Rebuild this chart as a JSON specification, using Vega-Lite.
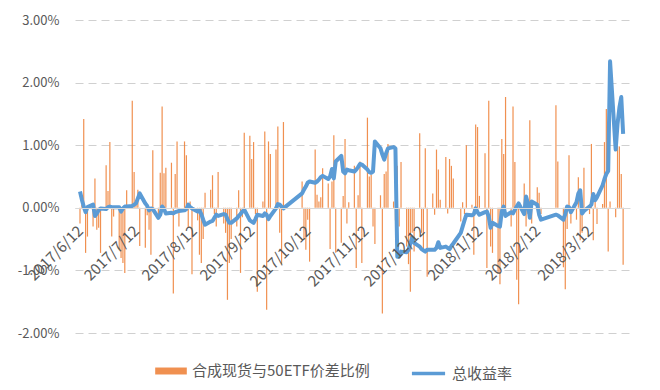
{
"$schema": "https://vega.github.io/schema/vega-lite/v6.json",
"width": 555, "height": 313,
"autosize": "none",
"padding": {"left": 75, "top": 20, "right": 30, "bottom": 57},
"background": "white",
"config": {"view": {"stroke": null}, "font": "Noto Sans CJK SC"},
"data": {"values": [
{"d":"2017-06-12","s":-0.25,"r":0.26},{"d":"2017-06-13","s":0.05,"r":0.13},{"d":"2017-06-14","s":1.42,"r":0.02},{"d":"2017-06-15","s":-0.72,"r":-0.07},{"d":"2017-06-16","s":-0.46,"r":0.01},
{"d":"2017-06-19","s":-0.3,"r":0.05},{"d":"2017-06-20","s":0.47,"r":-0.13},{"d":"2017-06-21","s":-0.35,"r":-0.09},{"d":"2017-06-22","s":-0.32,"r":-0.04},{"d":"2017-06-23","s":-0.72,"r":-0.01},
{"d":"2017-06-26","s":0.68,"r":-0.02},{"d":"2017-06-27","s":0.27,"r":0.01},{"d":"2017-06-28","s":1.05,"r":0.02},{"d":"2017-06-29","s":-0.46,"r":0.01},{"d":"2017-06-30","s":-0.14,"r":0.01},
{"d":"2017-07-03","s":-0.66,"r":0.01},{"d":"2017-07-04","s":-0.8,"r":-0.06},{"d":"2017-07-05","s":-0.88,"r":-0.01},{"d":"2017-07-06","s":-1.04,"r":0.02},{"d":"2017-07-07","s":0.28,"r":0.02},
{"d":"2017-07-10","s":1.71,"r":0.03},{"d":"2017-07-11","s":0.57,"r":0.05},{"d":"2017-07-12","s":0.1,"r":0.07},{"d":"2017-07-13","s":0.29,"r":0.15},{"d":"2017-07-14","s":-0.61,"r":0.23},
{"d":"2017-07-17","s":-0.64,"r":0.07},{"d":"2017-07-18","s":-0.12,"r":0.03},{"d":"2017-07-19","s":-0.35,"r":-0.04},{"d":"2017-07-20","s":-0.75,"r":-0.01},{"d":"2017-07-21","s":0.92,"r":-0.02},
{"d":"2017-07-24","s":-0.15,"r":-0.16},{"d":"2017-07-25","s":0.56,"r":-0.11},{"d":"2017-07-26","s":1.62,"r":0.02},{"d":"2017-07-27","s":0.55,"r":-0.02},{"d":"2017-07-28","s":0.64,"r":-0.09},
{"d":"2017-07-31","s":0.72,"r":-0.08},{"d":"2017-08-01","s":-1.37,"r":-0.09},{"d":"2017-08-02","s":0.54,"r":-0.07},{"d":"2017-08-03","s":1.06,"r":-0.06},{"d":"2017-08-04","s":-0.3,"r":-0.05},
{"d":"2017-08-07","s":1.06,"r":-0.04},{"d":"2017-08-08","s":0.84,"r":-0.02},{"d":"2017-08-09","s":-0.32,"r":0.05},{"d":"2017-08-10","s":0.1,"r":0.01},{"d":"2017-08-11","s":-1.06,"r":-0.01},
{"d":"2017-08-14","s":-0.2,"r":-0.06},{"d":"2017-08-15","s":-0.75,"r":-0.04},{"d":"2017-08-16","s":-0.88,"r":-0.1},{"d":"2017-08-17","s":-0.5,"r":-0.19},{"d":"2017-08-18","s":0.24,"r":-0.27},
{"d":"2017-08-21","s":0.29,"r":-0.22},{"d":"2017-08-22","s":0.52,"r":-0.21},{"d":"2017-08-23","s":-0.1,"r":-0.16},{"d":"2017-08-24","s":-0.3,"r":-0.11},{"d":"2017-08-25","s":0.57,"r":-0.13},
{"d":"2017-08-28","s":-0.25,"r":-0.1},{"d":"2017-08-29","s":-0.4,"r":-0.11},{"d":"2017-08-30","s":-1.47,"r":-0.18},{"d":"2017-08-31","s":-0.88,"r":-0.24},{"d":"2017-09-01","s":-0.5,"r":-0.24},
{"d":"2017-09-04","s":-0.3,"r":-0.17},{"d":"2017-09-05","s":0.28,"r":-0.13},{"d":"2017-09-06","s":-1.04,"r":-0.1},{"d":"2017-09-07","s":-0.15,"r":-0.06},{"d":"2017-09-08","s":1.2,"r":-0.03},
{"d":"2017-09-11","s":1.15,"r":-0.2},{"d":"2017-09-12","s":0.78,"r":-0.22},{"d":"2017-09-13","s":1.05,"r":-0.24},{"d":"2017-09-14","s":-0.1,"r":-0.18},{"d":"2017-09-15","s":-1.34,"r":-0.11},
{"d":"2017-09-18","s":0.1,"r":-0.13},{"d":"2017-09-19","s":1.22,"r":-0.09},{"d":"2017-09-20","s":-1.63,"r":-0.11},{"d":"2017-09-21","s":1.06,"r":-0.18},{"d":"2017-09-22","s":0.86,"r":-0.13},
{"d":"2017-09-25","s":0.93,"r":-0.01},{"d":"2017-09-26","s":1.3,"r":0.06},{"d":"2017-09-27","s":-0.4,"r":0.05},{"d":"2017-09-28","s":-0.9,"r":0.02},{"d":"2017-09-29","s":1.37,"r":-0.01},
{"d":"2017-10-09","s":0.42,"r":0.23},{"d":"2017-10-10","s":-0.51,"r":0.29},{"d":"2017-10-11","s":-0.67,"r":0.34},{"d":"2017-10-12","s":-0.19,"r":0.4},{"d":"2017-10-13","s":-0.86,"r":0.42},
{"d":"2017-10-16","s":0.93,"r":0.4},{"d":"2017-10-17","s":0.21,"r":0.42},{"d":"2017-10-18","s":0.1,"r":0.45},{"d":"2017-10-19","s":0.17,"r":0.49},{"d":"2017-10-20","s":0.63,"r":0.51},
{"d":"2017-10-23","s":0.39,"r":0.46},{"d":"2017-10-24","s":-0.66,"r":0.5},{"d":"2017-10-25","s":0.42,"r":0.62},{"d":"2017-10-26","s":1.16,"r":0.47},{"d":"2017-10-27","s":-0.72,"r":0.74},
{"d":"2017-10-30","s":-0.56,"r":0.83},{"d":"2017-10-31","s":0.19,"r":0.58},{"d":"2017-11-01","s":1.1,"r":0.55},{"d":"2017-11-02","s":-0.25,"r":0.61},{"d":"2017-11-03","s":0.09,"r":0.6},
{"d":"2017-11-06","s":0.67,"r":0.58},{"d":"2017-11-07","s":-0.96,"r":0.61},{"d":"2017-11-08","s":0.2,"r":0.65},{"d":"2017-11-09","s":0.74,"r":0.7},{"d":"2017-11-10","s":-0.88,"r":0.69},
{"d":"2017-11-13","s":1.44,"r":0.61},{"d":"2017-11-14","s":0.5,"r":0.57},{"d":"2017-11-15","s":0.53,"r":0.56},{"d":"2017-11-16","s":-0.3,"r":0.58},{"d":"2017-11-17","s":-0.58,"r":1.06},
{"d":"2017-11-20","s":0.2,"r":0.95},{"d":"2017-11-21","s":-1.69,"r":0.85},{"d":"2017-11-22","s":0.54,"r":0.77},{"d":"2017-11-23","s":0.58,"r":0.87},{"d":"2017-11-24","s":1.02,"r":0.95},
{"d":"2017-11-27","s":0.1,"r":0.97},{"d":"2017-11-28","s":-0.2,"r":0.95},{"d":"2017-11-29","s":0.67,"r":-0.78},{"d":"2017-11-30","s":-0.3,"r":-0.78},{"d":"2017-12-01","s":0.73,"r":-0.7},
{"d":"2017-12-04","s":-0.62,"r":-0.71},{"d":"2017-12-05","s":-0.9,"r":-0.67},{"d":"2017-12-06","s":-1.34,"r":-0.57},{"d":"2017-12-07","s":-0.4,"r":-0.48},{"d":"2017-12-08","s":-0.7,"r":-0.56},
{"d":"2017-12-11","s":1.19,"r":-0.62},{"d":"2017-12-12","s":-0.4,"r":-0.66},{"d":"2017-12-13","s":-0.67,"r":-0.68},{"d":"2017-12-14","s":0.95,"r":-0.7},{"d":"2017-12-15","s":-1.1,"r":-0.67},
{"d":"2017-12-18","s":0.23,"r":-0.67},{"d":"2017-12-19","s":-0.11,"r":-0.67},{"d":"2017-12-20","s":0.93,"r":-0.64},{"d":"2017-12-21","s":0.61,"r":-0.55},{"d":"2017-12-22","s":0.13,"r":-0.64},
{"d":"2017-12-25","s":0.81,"r":-0.62},{"d":"2017-12-26","s":-0.09,"r":-0.64},{"d":"2017-12-27","s":0.78,"r":-0.66},{"d":"2017-12-28","s":0.67,"r":-0.61},{"d":"2017-12-29","s":0.47,"r":-0.57},
{"d":"2018-01-02","s":-0.22,"r":-0.4},{"d":"2018-01-03","s":0.09,"r":-0.3},{"d":"2018-01-04","s":-0.1,"r":-0.2},{"d":"2018-01-05","s":1.0,"r":-0.11},
{"d":"2018-01-08","s":0.05,"r":-0.12},{"d":"2018-01-09","s":-0.75,"r":-0.1},{"d":"2018-01-10","s":1.33,"r":-0.01},{"d":"2018-01-11","s":1.29,"r":-0.07},{"d":"2018-01-12","s":0.19,"r":-0.11},
{"d":"2018-01-15","s":0.87,"r":-0.07},{"d":"2018-01-16","s":-0.96,"r":-0.06},{"d":"2018-01-17","s":1.71,"r":-0.14},{"d":"2018-01-18","s":-0.62,"r":-0.32},{"d":"2018-01-19","s":-0.72,"r":-0.24},
{"d":"2018-01-22","s":-1.04,"r":-0.29},{"d":"2018-01-23","s":-1.22,"r":-0.3},{"d":"2018-01-24","s":1.1,"r":-0.06},{"d":"2018-01-25","s":0.86,"r":0.02},{"d":"2018-01-26","s":1.77,"r":-0.13},
{"d":"2018-01-29","s":-0.3,"r":-0.07},{"d":"2018-01-30","s":1.62,"r":-0.09},{"d":"2018-01-31","s":0.73,"r":-0.03},{"d":"2018-02-01","s":-1.15,"r":0.02},{"d":"2018-02-02","s":-1.54,"r":0.07},
{"d":"2018-02-05","s":0.39,"r":-0.1},{"d":"2018-02-06","s":-0.3,"r":0.18},{"d":"2018-02-07","s":-0.1,"r":0.07},{"d":"2018-02-08","s":1.4,"r":-0.16},{"d":"2018-02-09","s":-0.25,"r":0.1},
{"d":"2018-02-12","s":0.33,"r":0.05},{"d":"2018-02-13","s":0.24,"r":-0.11},{"d":"2018-02-14","s":-0.1,"r":-0.19},
{"d":"2018-02-22","s":1.64,"r":-0.11},{"d":"2018-02-23","s":0.74,"r":-0.12},{"d":"2018-02-26","s":-0.95,"r":-0.19},{"d":"2018-02-27","s":-1.3,"r":-0.1},{"d":"2018-02-28","s":-0.34,"r":0.02},
{"d":"2018-03-01","s":0.84,"r":0.01},{"d":"2018-03-02","s":-0.25,"r":-0.07},{"d":"2018-03-05","s":-0.19,"r":0.09},{"d":"2018-03-06","s":0.49,"r":0.23},{"d":"2018-03-07","s":-0.52,"r":0.28},
{"d":"2018-03-08","s":-0.4,"r":-0.09},{"d":"2018-03-09","s":0.64,"r":-0.05},{"d":"2018-03-12","s":-0.1,"r":0.02},{"d":"2018-03-13","s":1.02,"r":0.05},{"d":"2018-03-14","s":-0.52,"r":0.22},
{"d":"2018-03-15","s":0.1,"r":0.12},{"d":"2018-03-16","s":-0.26,"r":0.17},{"d":"2018-03-19","s":0.06,"r":0.36},{"d":"2018-03-20","s":1.05,"r":0.46},{"d":"2018-03-21","s":1.58,"r":0.54},
{"d":"2018-03-22","s":-0.7,"r":0.59},{"d":"2018-03-23","s":0.1,"r":2.34},{"d":"2018-03-26","s":-0.15,"r":0.93},{"d":"2018-03-27","s":0.99,"r":1.34},{"d":"2018-03-28","s":0.98,"r":1.6},
{"d":"2018-03-29","s":0.54,"r":1.77},{"d":"2018-03-30","s":-0.91,"r":1.18}
]},
"layer": [
{"mark": {"type": "bar", "size": 1.2, "opacity": 0.85},
 "encoding": {
  "x": {"field": "d", "type": "temporal",
    "scale": {"type": "utc", "domain": [{"year":2017,"month":6,"date":12,"utc":true},{"year":2018,"month":3,"date":31,"utc":true}]},
    "axis": {"title": null, "values": [
      {"year":2017,"month":6,"date":12,"utc":true},{"year":2017,"month":7,"date":12,"utc":true},{"year":2017,"month":8,"date":12,"utc":true},{"year":2017,"month":9,"date":12,"utc":true},{"year":2017,"month":10,"date":12,"utc":true},{"year":2017,"month":11,"date":12,"utc":true},{"year":2017,"month":12,"date":12,"utc":true},{"year":2018,"month":1,"date":12,"utc":true},{"year":2018,"month":2,"date":12,"utc":true},{"year":2018,"month":3,"date":12,"utc":true}],
      "labelExpr": "utcFormat(datum.value, '%Y/%-m/%-d')",
      "labelAngle": -45, "labelAlign": "right", "labelBaseline": "middle", "labelPadding": 20,
      "labelFontSize": 15, "labelColor": "#595959", "labelOverlap": false, "labelBound": false, "labelFlush": false,
      "ticks": false, "grid": false, "domainColor": "#D9D9D9", "domainWidth": 1, "offset": -125, "zindex": 1}},
  "y": {"field": "s", "type": "quantitative",
    "scale": {"domain": [-2, 3], "nice": false, "zero": false},
    "axis": {"title": null, "values": [-2,-1.5,-1,-0.5,0,0.5,1,1.5,2,2.5,3],
      "labelExpr": "(datum.value < 0 ? '-' : '') + format(abs(datum.value), '.2f') + '%'",
      "grid": true, "gridDash": [8,5], "gridColor": "#D0D0D0", "gridWidth": 1,
      "domain": false, "ticks": false, "labelPadding": 16, "labelFontSize": 13, "labelColor": "#595959"}},
  "fill": {"datum": "合成现货与50ETF价差比例", "scale": {"range": ["#ED7D31"]},
    "legend": {"orient": "none", "legendX": 80, "legendY": 335, "title": null, "labelLimit": 0,
      "symbolType": "M-1,-0.22H1V0.22H-1Z", "symbolSize": 1000, "symbolStrokeWidth": 0,
      "labelFontSize": 15, "labelColor": "#595959", "labelOffset": 5}}
 }},
{"mark": {"type": "line", "strokeWidth": 4, "strokeJoin": "round"},
 "encoding": {
  "x": {"field": "d", "type": "temporal"},
  "y": {"field": "r", "type": "quantitative"},
  "stroke": {"datum": "总收益率", "scale": {"range": ["#5B9BD5"]},
    "legend": {"orient": "none", "legendX": 335, "legendY": 335, "title": null, "labelLimit": 0,
      "symbolType": "stroke", "symbolSize": 1100, "symbolStrokeWidth": 3.5,
      "labelFontSize": 15, "labelColor": "#595959", "labelOffset": 5}}
 }}
]
}
